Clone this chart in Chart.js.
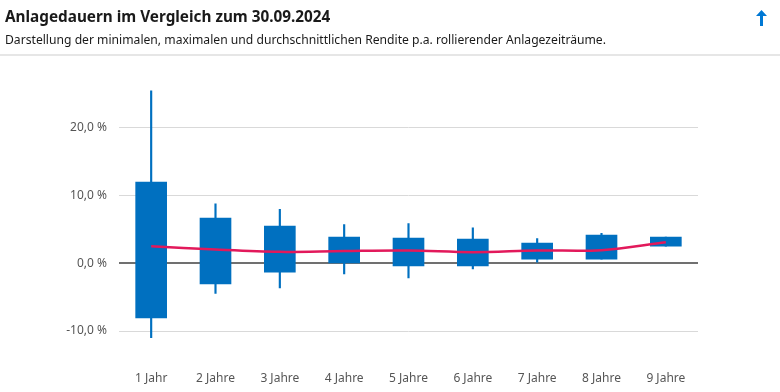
<!DOCTYPE html>
<html>
<head>
<meta charset="utf-8">
<script src="https://cdn.jsdelivr.net/npm/chart.js@4.4.1/dist/chart.umd.min.js"></script>
<style>
  html, body { margin: 0; padding: 0; background: #fff; }
  body { width: 780px; height: 392px; position: relative; overflow: hidden; font-family: "Noto Sans", sans-serif; }
  #title { position: absolute; left: 5px; top: 6px; font-size: 15.3px; font-weight: 700; color: #1a1a1a; white-space: nowrap; }
  #sub { position: absolute; left: 5px; top: 31px; font-size: 12.15px; color: #1a1a1a; white-space: nowrap; }
  #sep { position: absolute; left: 0; top: 54px; width: 780px; height: 2px; background: #e6e6e6; }
  #arrow { position: absolute; left: 756px; top: 10px; width: 11px; height: 16px; }
  #wrap { position: absolute; left: 0; top: 0; width: 780px; height: 392px; }
</style>
</head>
<body>
<div id="wrap"><canvas id="c" width="780" height="392"></canvas></div>
<div id="title">Anlagedauern im Vergleich zum 30.09.2024</div>
<div id="sub">Darstellung der minimalen, maximalen und durchschnittlichen Rendite p.a. rollierender Anlagezeiträume.</div>
<div id="sep"></div>
<svg id="arrow" viewBox="0 0 11 16"><path d="M5.5 0 L11 6 L7 6 L7 16 L4 16 L4 6 L0 6 Z" fill="#0078d4"/></svg>
<script>
const categories = ['1 Jahr','2 Jahre','3 Jahre','4 Jahre','5 Jahre','6 Jahre','7 Jahre','8 Jahre','9 Jahre'];
const minVals  = [-10.96, -4.47, -3.64, -1.58, -2.17, -0.84, 0.0, 0.59, 2.51];
const maxVals  = [25.4, 8.75, 7.92, 5.7, 5.85, 5.2, 3.64, 4.38, 3.83];
const boxLow   = [-8.07, -3.05, -1.33, 0.05, -0.39, -0.39, 0.59, 0.59, 2.51];
const boxHigh  = [11.95, 6.64, 5.46, 3.83, 3.69, 3.54, 2.95, 4.13, 3.83];
const meanVals = [2.5, 2.0, 1.67, 1.8, 1.87, 1.62, 1.87, 1.92, 3.1];
const yTicks   = [-10, 0, 10, 20];

const blue = '#0070c0';
const fmt = v => v.toFixed(1).replace('.', ',') + ' %';

new Chart(document.getElementById('c'), {
  data: {
    labels: categories,
    datasets: [
      {
        type: 'line', data: meanVals, borderColor: '#e2195b', borderWidth: 2.5,
        pointRadius: 0, tension: 0.35, fill: false, order: 0
      },
      {
        type: 'bar', data: categories.map((c, i) => [boxLow[i], boxHigh[i]]),
        backgroundColor: blue, borderWidth: 0, barThickness: 31, grouped: false, order: 1
      },
      {
        type: 'bar', data: categories.map((c, i) => [minVals[i], maxVals[i]]),
        backgroundColor: blue, borderWidth: 0, barThickness: 1.5, grouped: false, order: 2
      }
    ]
  },
  options: {
    responsive: false,
    animation: false,
    layout: { padding: { top: 86.7, right: 82, left: 0, bottom: 0 } },
    plugins: { legend: { display: false }, tooltip: { enabled: false } },
    scales: {
      x: {
        type: 'category', offset: true,
        grid: { display: false, drawTicks: false },
        border: { display: false },
        ticks: { color: '#555', font: { family: 'Noto Sans', size: 12 }, padding: 6, maxRotation: 0 },
        afterFit: s => { s.height = 27; }
      },
      y: {
        min: -15, max: 26,
        afterBuildTicks: s => { s.ticks = yTicks.map(v => ({ value: v })); },
        grid: {
          drawTicks: false,
          color: ctx => (ctx.tick && ctx.tick.value === 0) ? '#707070' : '#d9d9d9',
          lineWidth: ctx => (ctx.tick && ctx.tick.value === 0) ? 2 : 1
        },
        border: { display: false },
        ticks: { color: '#555', font: { family: 'Noto Sans', size: 12 }, padding: 12, callback: v => fmt(v) },
        afterFit: s => { s.width = 119; }
      }
    }
  }
});
</script>
</body>
</html>
